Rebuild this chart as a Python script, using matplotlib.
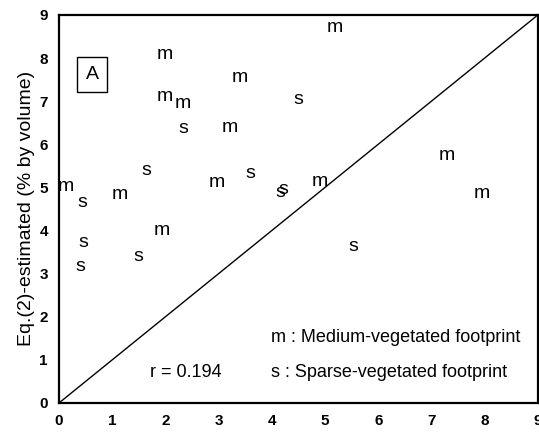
import matplotlib.pyplot as plt

plt.rcParams['font.family'] = ['Liberation Sans', 'DejaVu Sans']

# medium-vegetated footprint (m)
m_x = [5.19, 1.99, 3.40, 1.99, 2.33, 3.21, 0.12, 1.15, 2.96, 4.91, 7.29, 7.94, 1.93]
m_y = [8.70, 8.07, 7.54, 7.10, 6.94, 6.38, 5.03, 4.83, 5.11, 5.13, 5.75, 4.86, 4.00]

# sparse-vegetated footprint (s)
s_x = [0.43, 1.65, 2.34, 3.59, 4.15, 4.21, 4.50, 0.46, 0.41, 1.49, 5.53]
s_y = [4.65, 5.39, 6.37, 5.33, 4.87, 4.95, 7.03, 3.73, 3.16, 3.39, 3.63]

ticks = list(range(10))

fig = plt.figure(figsize=(5.39, 4.38), dpi=100)
ax = fig.add_axes([0.1095, 0.080, 0.8885, 0.886])

for x, y in zip(m_x, m_y):
    ax.text(x, y, 'm', ha='center', va='center', fontsize=14)
for x, y in zip(s_x, s_y):
    ax.text(x, y, 's', ha='center', va='center', fontsize=14)

# 1:1 line
ax.plot([0, 9], [0, 9], color='black', lw=1)

ax.set_xlim(0, 9)
ax.set_ylim(0, 9)
ax.set_xticks(ticks)
ax.set_yticks(ticks)
ax.tick_params(length=0, labelsize=11, pad=8)
for lab in ax.get_xticklabels() + ax.get_yticklabels():
    lab.set_fontweight('bold')
for sp in ax.spines.values():
    sp.set_linewidth(1.6)

ax.set_ylabel('Eq.(2)-estimated (% by volume)', fontsize=14, labelpad=3)

ax.text(0.62, 7.62, 'A', fontsize=14, ha='center', va='center',
        bbox=dict(boxstyle='square,pad=0.45', fc='white', ec='black', lw=1))

ax.text(3.98, 1.51, 'm : Medium-vegetated footprint', fontsize=13, va='center')
ax.text(3.98, 0.70, 's : Sparse-vegetated footprint', fontsize=13, va='center')
ax.text(1.71, 0.70, 'r = 0.194', fontsize=13, va='center')

fig.savefig('out.png')
